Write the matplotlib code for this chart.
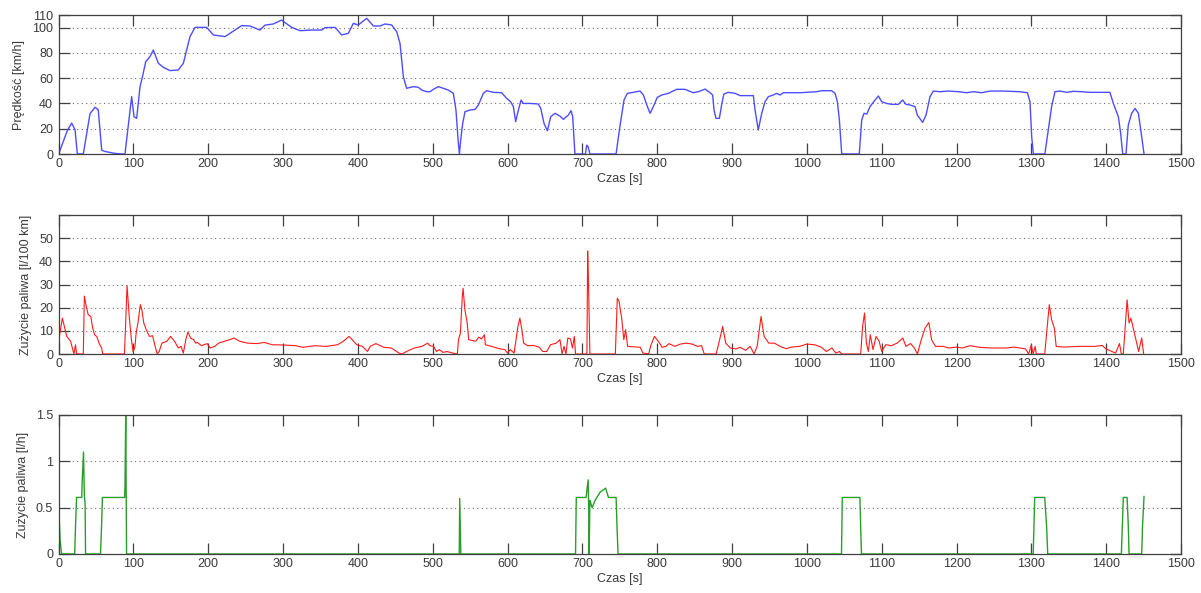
import matplotlib
matplotlib.use("Agg")
import matplotlib.pyplot as plt

# --- predkosc [km/h] ---
t_v = [0, 5, 12, 17.5, 22, 25, 33, 42, 48.7, 53, 57.6, 62, 75, 86, 88.7, 93, 97.6,
       100.8, 104.3, 108.8, 112, 116.4, 122, 126.6, 133.3, 140, 148.9, 160, 166.7,
       171.2, 175.6, 182.3, 197.9, 206.8, 222.4, 229, 244.6, 255.8, 269.1, 275.8,
       287, 298, 302.5, 311.5, 322.6, 338.2, 351.6, 356, 369.4, 378.3, 387.2, 393.9,
       400.5, 411.7, 420.6, 429.5, 436.2, 445.1, 451.8, 456.2, 460.7, 465.1, 474,
       480.7, 485.2, 491.9, 496.3, 500.8, 507.5, 514, 520.9, 527.5, 531, 534.2,
       535.6, 537.3, 540, 543.1, 549.8, 556.5, 561, 567.6, 572, 581, 592, 598.8,
       604, 607.7, 610.8, 614.4, 618, 621, 630, 641, 644.3, 648.7, 653.2, 657.6,
       663.4, 670, 674.5, 681.2, 684.8, 687, 690, 704, 705.7, 707.5, 710, 745, 750,
       755.6, 760, 768, 777, 781.5, 786, 790.4, 794.8, 800, 806, 814.8, 826, 837,
       848, 855, 864, 870.5, 874, 875.9, 878.5, 883, 886, 889, 895, 904, 910.6, 924,
       928.4, 930.7, 935, 939.6, 944, 948.5, 955, 959.6, 964, 968.5, 990.8, 1000,
       1013, 1020, 1033, 1037.6, 1040.7, 1043.4, 1046.5, 1070, 1073.2, 1076.3, 1080,
       1084.3, 1091, 1095.5, 1100, 1106.6, 1113.3, 1122.2, 1128, 1132.4, 1137.8,
       1144.5, 1147.6, 1154.7, 1159.2, 1164.5, 1169, 1178, 1189, 1202.4, 1213.5,
       1222.4, 1233.6, 1244.7, 1262.5, 1284.8, 1294.6, 1298.1, 1300.4, 1302.6, 1318,
       1322.6, 1327, 1331.5, 1338.2, 1347.2, 1356, 1367.2, 1378.3, 1405, 1409.5,
       1416.2, 1419.3, 1422, 1426.4, 1429.5, 1434, 1438.5, 1443, 1447.4, 1450.5]
v = [0, 8, 19, 24.5, 19, 0, 0, 32, 37, 35, 3, 2, 0.5, 0, 0, 21.6, 45.4,
     29.5, 28.2, 53.3, 61, 73, 77, 82.3, 71.8, 68.6, 66, 66.5, 71.8,
     82.3, 92.9, 100.2, 100.2, 94.2, 92.9, 95.5, 101.6, 101.3, 98.1, 102,
     102.9, 106, 104, 100.2, 97.6, 98.1, 98.1, 100, 100.2, 94.2, 95.5, 103.4,
     102.1, 107.4, 101.3, 101.3, 102.9, 102.1, 96.8, 87.6, 61.2, 52, 53.3,
     52.8, 50.6, 49.3, 49.3, 51.2, 53.3, 52, 50.6, 48, 34.8, 8.4,
     0, 11, 24.2, 33.5, 34.8, 35.3, 38.8, 48, 50.1, 48.8, 48.5, 44,
     41.4, 37.5, 25.6, 34.8, 42.7, 40, 40, 39.6, 36.1, 24.2, 18.4, 29.5,
     32.2, 30, 27.4, 30.8, 34.3, 29.5, 0, 0, 7, 6, 0, 0, 21.6,
     42.7, 48, 48.8, 49.8, 46.7, 38.8, 32.2, 37.5, 44.8, 46.7, 48, 51.2, 51.2,
     48.5, 49.3, 51.4, 48.5, 46.7, 34.8, 28.2, 28.2, 38.8, 47.5, 48.8, 48, 46.2, 46.2,
     46.2, 34.8, 19, 32.2, 41.4, 45.4, 46.7, 48, 46.7, 48.5, 48.5, 48.8,
     49.3, 50.1, 50.1, 48, 41.4, 26.9, 0, 0, 26.9, 32.2, 31.6,
     37.5, 42.7, 45.9, 41.4, 40, 39.3, 39.3, 42.7, 39.3, 38.8,
     37.5, 30.8, 25, 30.8, 45.4, 49.8, 49.3, 49.8, 49.3, 48.5,
     49.3, 48.5, 49.8, 49.8, 49.3, 48.5, 41.4, 13.7, 0, 0,
     19, 37.5, 49.3, 49.8, 48.8, 49.6, 49.3, 48.8, 48.8, 40,
     29.5, 16.3, 0, 0, 23, 32.2, 36.1, 32.2, 13.7, 0]

# --- zuzycie paliwa [l/100 km] ---
t_c = [0, 5, 8.7, 11, 16, 20.5, 22.6, 24, 33, 34.4, 37, 39.5, 43, 45.6, 48, 51, 54,
       57.4, 59, 88, 91.5, 94.4, 97.4, 99.5, 102, 103.6, 106, 109.2, 111.3, 113.8,
       118, 121.5, 125.6, 129, 131.8, 134.4, 138, 144.6, 149.7, 154.9, 160, 163.6,
       166.7, 170, 172.8, 176.4, 180.5, 183, 185.6, 190.8, 198.5, 202.6, 208.7,
       213.8, 221.5, 229, 234.4, 242, 252.3, 265, 275, 285.6, 301, 316.4, 326.7,
       342, 357.4, 372.8, 380.5, 388.2, 392.3, 398.5, 406, 412.8, 416.4, 424, 434.4,
       444.6, 454.9, 459, 465, 475.4, 485.6, 493.3, 495.9, 501, 505, 508.7, 513.8,
       519, 526.7, 532.8, 534.4, 536.9, 539.5, 540.5, 543, 546, 548, 557.4, 561.5,
       565, 569, 570.3, 578.5, 588.7, 596.4, 600, 603.6, 608.7, 613.8, 616.4, 619,
       621.5, 626.7, 634.4, 642, 647, 652.3, 657.4, 665, 670, 672.8, 675.4, 678,
       680.5, 684, 686.7, 689.2, 690.8, 706, 707, 708, 710, 744, 746.6, 749, 752.7,
       755.3, 757.8, 760.4, 777.3, 780.9, 788.6, 791, 796.2, 801.4, 806.5, 811.6,
       815.7, 823.4, 831, 838.8, 846.5, 854, 859.3, 862.8, 878.7, 882.3, 887.4,
       891.5, 897.7, 905.4, 910.5, 918.2, 924.3, 929.4, 933.5, 938.7, 942.8, 949,
       956.6, 964.3, 972, 979.7, 990, 1000.1, 1010.4, 1019.6, 1025.8, 1033.4,
       1038.6, 1043.7, 1046.3, 1071.9, 1074.4, 1077, 1079.5, 1082.1, 1084.7, 1088.3,
       1092.4, 1096.5, 1100, 1105.2, 1112.9, 1120.5, 1128.2, 1132.3, 1138.5, 1143.6,
       1147.7, 1152.8, 1157.9, 1163, 1166.6, 1171.7, 1182, 1189.7, 1200, 1207.6,
       1217.9, 1230.7, 1246, 1266.5, 1276.8, 1292.2, 1296.3, 1299.9, 1302.4, 1305,
       1306.5, 1317.8, 1320.3, 1323.9, 1327, 1330.6, 1333.1, 1343.4, 1363.8, 1384.4,
       1394.6, 1399.7, 1407.4, 1412.5, 1417.7, 1420.2, 1422.8, 1427.9, 1430.5, 1433,
       1436.6, 1440.7, 1443.3, 1447.4, 1450]
c_km = [5.5, 15.5, 10.5, 7.6, 5.5, 0, 4, 0, 0, 25, 20.5, 17, 16.2, 11.2, 8.3, 7.6, 4.7,
        2.6, 0, 0, 29.5, 16, 6, 1, 3, 9, 13.4, 21.3, 19, 13.4,
        9.8, 7.6, 7.9, 3.3, 0, 1.1, 4.7, 5.5, 7.6, 5.5, 2.6, 3.3,
        0.4, 6.2, 9.5, 6.9, 6.2, 4.7, 5, 3.6, 4.5, 2.6, 3.3,
        4.7, 5.5, 6.2, 6.9, 5.5, 4.7, 4.5, 5, 4, 3.9, 3.6, 2.9,
        3.6, 3.3, 4, 5.5, 7.6, 6.2, 4, 3.3, 1.1, 3.3, 4.5, 2.9,
        2.6, 0.4, 0, 1.1, 2.6, 3.3, 4.7, 3.6, 3.3, 1.1, 1.9, 0.7,
        1.1, 0.4, 0, 6.2, 9, 25, 28.4, 19, 13.4, 6.2, 5.5, 7.3,
        6.5, 8.3, 4, 3.3, 2.3, 1.9, 0.4, 1.9, 0.4, 11.9, 15.5, 10.5,
        4.7, 3.6, 3.7, 3, 1.1, 1.1, 4, 4.7, 6.2, 0, 3.3, 0,
        6.9, 6.5, 2.6, 7.6, 0, 0, 44.5, 32, 0, 0, 24.1, 22.7, 14.8,
        6.2, 10.5, 3.3, 2.9, 0.4, 0.1, 3.3, 7.6, 5.5, 2.9, 3.3,
        4.5, 3.3, 4.3, 4.7, 4.3, 3.3, 3.6, 0, 0, 4.7, 11.9,
        4.7, 2.6, 2.2, 2.9, 1.6, 3.3, 0, 3.3, 16.2, 7.6, 4.7,
        4.7, 3.3, 2.3, 3, 3.3, 4.3, 4, 2.9, 1.1, 2.6,
        0.4, 1.1, 0, 0, 11.9, 17.7, 4.7, 1.1, 8.3, 1.9,
        7.6, 5.5, 1.1, 4, 3.6, 4.7, 6.9, 3.3, 4.5, 2.6,
        0, 6.2, 11.2, 13.6, 6.2, 3.3, 3.3, 2.6, 3, 2.6,
        3.6, 2.9, 2.6, 2.6, 3, 2.2, 0, 4, 0, 3.3,
        0, 0, 9, 21.3, 14.8, 11.2, 3.3, 3, 3.3, 3.3,
        3.7, 2.2, 1.1, 0.4, 4.5, 0, 0, 23.4, 13.4, 15.5,
        10.5, 4.7, 1.1, 6.9, 0]

# --- zuzycie paliwa [l/h] ---
t_h = [0, 2, 4, 21.5, 22.6, 24, 30.8, 31.8, 33.3, 34.4, 35.4, 36, 56, 57.4, 58.5,
       88.2, 88.7, 89.7, 90.8, 535.4, 536, 537.5, 690.8, 691.8, 705, 706, 707.7,
       708.5, 709, 710, 713, 717, 720, 724, 731, 734.8, 745, 746.2, 747.6, 1046.2,
       1047.3, 1070.8, 1071.8, 1072.9, 1302.4, 1303.4, 1304.4, 1317.8, 1320.3,
       1321.8, 1420.2, 1421.5, 1422.8, 1427.9, 1429.5, 1430.5, 1447.4, 1448.5,
       1450.5]
c_h = [0.55, 0.15, 0, 0, 0.3, 0.61, 0.61, 0.84, 1.1, 0.62, 0.55, 0, 0, 0.3, 0.61,
       0.61, 0.73, 1.5, 0, 0, 0.6, 0, 0, 0.61, 0.61, 0.69, 0.8,
       0.45, 0, 0.58, 0.5, 0.58, 0.62, 0.67, 0.71, 0.61, 0.61, 0.3, 0, 0,
       0.61, 0.61, 0.3, 0, 0, 0.3, 0.61, 0.61, 0.3,
       0, 0, 0.3, 0.61, 0.61, 0.3, 0, 0, 0.3,
       0.62]

x_ticks = list(range(0, 1501, 100))
xlabel = "Czas [s]"

plt.rcParams['font.family'] = ['Liberation Sans', 'DejaVu Sans']
plt.rcParams['font.size'] = 9
txt_col = '#3a3a3a'

fig = plt.figure(figsize=(12.01, 5.93), dpi=100)
left, width, height = 0.0488, 0.9346, 0.2344
bottoms = [0.7403, 0.4030, 0.0658]

panels = [
    (t_v, v, (0.3, 0.3, 1.0), 1.0, (0, 110), [0, 20, 40, 60, 80, 100, 110],
     ['0', '20', '40', '60', '80', '100', '110'], u"Prędkość [km/h]"),
    (t_c, c_km, '#ff1a1a', 0.8, (0, 60), [0, 10, 20, 30, 40, 50, 60],
     ['0', '10', '20', '30', '40', '50', ''], u"Zużycie paliwa [l/100 km]"),
    (t_h, c_h, '#2a9e2a', 1.0, (0, 1.5), [0, 0.5, 1, 1.5],
     ['0', '0.5', '1', '1.5'], u"Zużycie paliwa [l/h]"),
]

for b, (tx, yy, col, lw, ylim, yt, ytl, ylab) in zip(bottoms, panels):
    ax = fig.add_axes([left, b, width, height])
    ax.plot(tx, yy, color=col, linewidth=lw, zorder=2)
    ax.set_xlim(0, 1500)
    ax.set_ylim(*ylim)
    ax.set_xticks(x_ticks)
    ax.set_yticks(yt)
    ax.set_yticklabels(ytl)
    ax.tick_params(direction='in', length=8, width=0.9, color='#404040',
                   top=True, right=True, labelcolor=txt_col, labelsize=9)
    ax.tick_params(axis='x', pad=3)
    ax.tick_params(axis='y', pad=4)
    for s in ax.spines.values():
        s.set_color('#404040')
        s.set_linewidth(0.9)
    ax.yaxis.grid(True, linestyle=(0, (1, 3)), color='#707070', linewidth=0.8)
    ax.set_axisbelow(True)
    ax.set_xlabel(xlabel, color=txt_col, labelpad=2)
    # label sits a fixed gap left of the tick labels, like in the source
    ax.set_ylabel(ylab, color=txt_col, labelpad=5)

fig.savefig("out.png", dpi=100)
